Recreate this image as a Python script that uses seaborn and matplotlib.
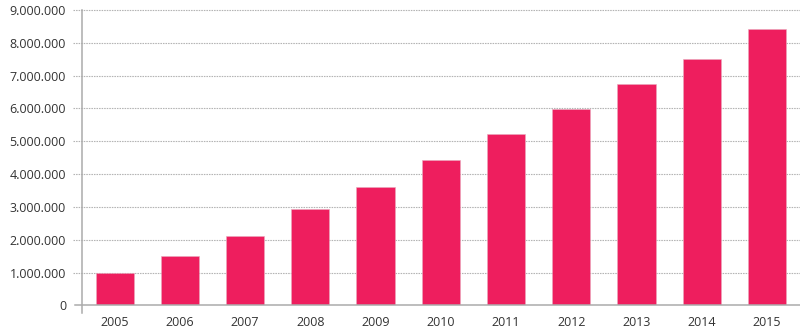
import matplotlib
matplotlib.use("Agg")
import matplotlib.pyplot as plt
import seaborn as sns
import pandas as pd
from matplotlib.ticker import FuncFormatter

years = ["2005", "2006", "2007", "2008", "2009", "2010",
         "2011", "2012", "2013", "2014", "2015"]
values = [1000000, 1500000, 2110000, 2930000, 3620000, 4420000,
          5210000, 5970000, 6740000, 7500000, 8410000]
y_ticks = [0, 1000000, 2000000, 3000000, 4000000, 5000000,
           6000000, 7000000, 8000000, 9000000]

df = pd.DataFrame({"year": years, "value": values})

sns.set_style("white")
plt.rcParams["font.family"] = ["Open Sans", "DejaVu Sans"]

fig = plt.figure(figsize=(8, 3.31), dpi=100)
ax = fig.add_axes([0.1025, 0.0776, 0.897, 0.892])

bar_color = "#EE1E5E"
sns.barplot(data=df, x="year", y="value", color=bar_color, width=0.585,
            saturation=1, edgecolor="#e9a9bd", linewidth=0.4, ax=ax, zorder=3)

axis_grey = "#ababab"
ax.set_xlim(-0.5, len(years) - 0.5)
ax.set_ylim(0, 9000000)
ax.set_yticks(y_ticks)
ax.yaxis.set_major_formatter(FuncFormatter(lambda v, p: f"{int(v):,}".replace(",", ".")))

# dotted grid lines that run a little past the left axis
ax.hlines(y_ticks[1:], -0.0125, 1, transform=ax.get_yaxis_transform(),
          colors="#b4b4b4", linestyles=(0, (1.4, 0.9)), linewidth=0.8,
          clip_on=False, zorder=1)

for s in ["top", "right"]:
    ax.spines[s].set_visible(False)
for s in ["left", "bottom"]:
    ax.spines[s].set_color(axis_grey)
    ax.spines[s].set_linewidth(1.1)
    ax.spines[s].set_zorder(4)
ax.spines["bottom"].set_bounds(-0.5 - 7 / 65.2, len(years) - 0.5)
ax.spines["left"].set_bounds(-8 / 32.8 * 1e6, 9000000)

ax.set_xticks([i + 0.5 for i in range(len(years) - 1)], minor=True)
ax.tick_params(axis="x", which="minor", length=5.8, width=1.1, color=axis_grey)
ax.tick_params(axis="x", which="major", length=0, pad=7.5, labelsize=9, labelcolor="#333333")
ax.tick_params(axis="y", length=0, pad=11.5, labelsize=9, labelcolor="#333333")
ax.set_xlabel("")
ax.set_ylabel("")

fig.savefig("out.png", dpi=100)
